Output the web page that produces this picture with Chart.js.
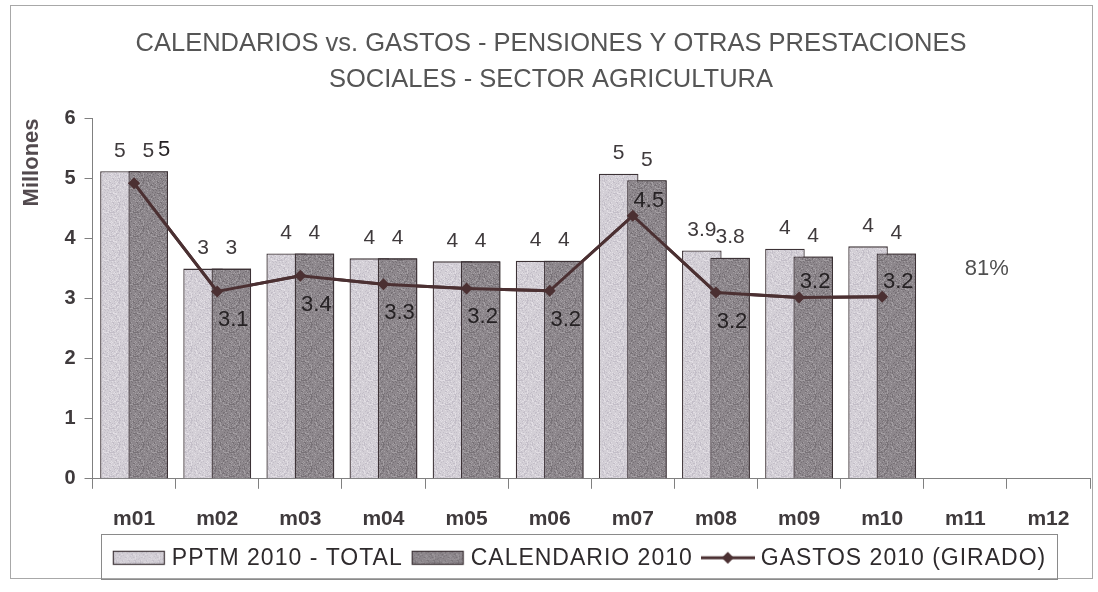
<!DOCTYPE html>
<html>
<head>
<meta charset="utf-8">
<script src="https://cdn.jsdelivr.net/npm/chart.js@4"></script>
<style>
  html, body { margin: 0; padding: 0; background: #fff; }
  #wrap { width: 1098px; height: 592px; }
</style>
</head>
<body>
<div id="wrap"><canvas id="chart" width="1098" height="592"></canvas></div>
<script>
"use strict";

// data (millones)
var months = ['m01', 'm02', 'm03', 'm04', 'm05', 'm06', 'm07', 'm08', 'm09', 'm10', 'm11', 'm12'];
var pptm = [5.12, 3.5, 3.75, 3.67, 3.62, 3.63, 5.08, 3.8, 3.83, 3.87, null, null];
var calendario = [5.12, 3.5, 3.75, 3.67, 3.62, 3.63, 4.97, 3.68, 3.7, 3.75, null, null];
var gastos = [4.92, 3.12, 3.38, 3.24, 3.17, 3.13, 4.38, 3.1, 3.02, 3.03, null, null];

// labels as printed on the chart
var pptmLabels = ['5', '3', '4', '4', '4', '4', '5', '3.9', '4', '4', '', ''];
var calLabels = ['5', '3', '4', '4', '4', '4', '5', '3.8', '4', '4', '', ''];
var gastosLabels = ['5', '3.1', '3.4', '3.3', '3.2', '3.2', '4.5', '3.2', '3.2', '3.2', '', ''];
var gastosLabelSide = ['right', 'below', 'below', 'below', 'below', 'below', 'above', 'below', 'above', 'above', '', ''];
var yTicks = [0, 1, 2, 3, 4, 5, 6];
var ejecucion = '81%';

var FONT = "'Liberation Sans', Arial, sans-serif";
var LINE_COLOR = '#4b3032';
var BAR_BORDER = '#3c3236';
var TEXT = '#3f3a3c';

// speckled fill like the scanned print
function speckle(base, dots, size) {
    var c = document.createElement('canvas');
    c.width = size; c.height = size;
    var g = c.getContext('2d');
    g.fillStyle = base;
    g.fillRect(0, 0, size, size);
    for (var i = 0; i < size; i++) {
        for (var j = 0; j < size; j++) {
            var h = ((i * 7919 + j * 104729 + i * j * 31) % 97) / 97;
            if (h < 0.18) { g.fillStyle = dots[0]; g.fillRect(i, j, 1, 1); }
            else if (h > 0.85) { g.fillStyle = dots[1]; g.fillRect(i, j, 1, 1); }
        }
    }
    return g.createPattern(c, 'repeat');
}

var ctx = document.getElementById('chart').getContext('2d');
var pptmFill = speckle('#d3cfd6', ['#c3bec8', '#e2dee4'], 24);
var calFill = speckle('#8d878c', ['#777176', '#a39ea2'], 24);

function swatch(fill) {
    var c = document.createElement('canvas');
    c.width = 54; c.height = 16;
    var g = c.getContext('2d');
    g.fillStyle = fill;
    g.fillRect(1, 1, 52, 14);
    g.strokeStyle = BAR_BORDER;
    g.lineWidth = 1.2;
    g.strokeRect(1.5, 1.5, 51, 13);
    return c;
}

function lineSwatch() {
    var c = document.createElement('canvas');
    c.width = 54; c.height = 16;
    var g = c.getContext('2d');
    g.strokeStyle = LINE_COLOR;
    g.lineWidth = 3;
    g.beginPath(); g.moveTo(0, 8); g.lineTo(54, 8); g.stroke();
    g.fillStyle = LINE_COLOR;
    g.beginPath(); g.moveTo(27, 2); g.lineTo(33, 8); g.lineTo(27, 14); g.lineTo(21, 8); g.closePath(); g.fill();
    return c;
}

var swatches = [swatch(pptmFill), swatch(calFill), lineSwatch()];
var labelOffset = { above: [16, -4, 'bottom'], below: [16, 18, 'top'], right: [30, -22, 'bottom'] };

var extras = {
    id: 'extras',
    beforeDraw: function(chart) {
        var c = chart.ctx;
        c.save();
        c.strokeStyle = '#a8a8a8';
        c.lineWidth = 1;
        c.strokeRect(10.5, 5.5, 1082, 573);
        c.restore();
    },
    afterDatasetsDraw: function(chart) {
        // calendario sits in front of pptm, line on top of both
        chart.getDatasetMeta(1).controller.draw();
        chart.getDatasetMeta(2).controller.draw();

        var c = chart.ctx;
        c.save();
        c.font = '21px ' + FONT;
        c.fillStyle = TEXT;
        c.textAlign = 'center';
        c.textBaseline = 'bottom';
        [[0, pptmLabels], [1, calLabels]].forEach(function(d) {
            chart.getDatasetMeta(d[0]).data.forEach(function(bar, i) {
                if (!d[1][i]) return;
                c.fillText(d[1][i], bar.x, bar.y - 10);
            });
        });
        c.font = '22px ' + FONT;
        c.fillStyle = '#262224';
        chart.getDatasetMeta(2).data.forEach(function(pt, i) {
            if (!gastosLabels[i]) return;
            var o = labelOffset[gastosLabelSide[i]];
            c.textBaseline = o[2];
            c.fillText(gastosLabels[i], pt.x + o[0], pt.y + o[1]);
        });

        var xs = chart.scales.x, ys = chart.scales.y;
        c.font = '22px ' + FONT;
        c.fillStyle = '#505050';
        c.textBaseline = 'middle';
        c.fillText(ejecucion, (xs.getPixelForValue(10) + xs.getPixelForValue(11)) / 2 - 20, ys.getPixelForValue(3.5));
        c.restore();
    },
    afterDraw: function(chart) {
        // legend in a framed box under the month labels
        var c = chart.ctx;
        var ds = chart.data.datasets;
        c.save();
        c.font = '23px ' + FONT;
        c.letterSpacing = '1px';
        var gap = 6, itemGap = 8, sw = 54;
        var widths = ds.map(function(d) { return sw + gap + c.measureText(d.label).width; });
        var total = widths.reduce(function(a, b) { return a + b; }, 0) + itemGap * (ds.length - 1);
        var boxTop = chart.scales.x.top + 55;
        var midY = boxTop + 24;
        var x = chart.width / 2 + 30 - total / 2;
        c.strokeStyle = '#8a8a8a';
        c.lineWidth = 1;
        c.strokeRect(Math.round(x - 11) + 0.5, Math.round(boxTop) + 0.5, Math.round(total + 22), 45);
        c.fillStyle = '#2e2a2c';
        c.textAlign = 'left';
        c.textBaseline = 'middle';
        ds.forEach(function(d, i) {
            c.drawImage(swatches[i], x, midY - 8);
            c.fillText(d.label, x + sw + gap, midY + 1);
            x += widths[i] + itemGap;
        });
        c.restore();
    }
};

new Chart(ctx, {
    type: 'bar',
    data: {
        labels: months,
        datasets: [{
            label: 'PPTM 2010 - TOTAL',
            data: pptm,
            backgroundColor: pptmFill,
            borderColor: BAR_BORDER,
            borderWidth: 1.3,
            barPercentage: 1.4,
            categoryPercentage: 0.68,
            order: 1
        }, {
            label: 'CALENDARIO 2010',
            data: calendario,
            backgroundColor: calFill,
            borderColor: BAR_BORDER,
            borderWidth: 1.3,
            barPercentage: 1.4,
            categoryPercentage: 0.68,
            order: 1
        }, {
            type: 'line',
            label: 'GASTOS 2010 (GIRADO)',
            data: gastos,
            borderColor: LINE_COLOR,
            backgroundColor: LINE_COLOR,
            borderWidth: 3,
            pointStyle: 'rectRot',
            pointRadius: 6,
            pointBorderWidth: 0,
            spanGaps: false,
            order: 0
        }]
    },
    options: {
        responsive: false,
        animation: false,
        layout: { padding: { left: 12, right: 8, top: 10, bottom: 42 } },
        plugins: {
            tooltip: { enabled: false },
            legend: { display: false },
            title: {
                display: true,
                text: ['CALENDARIOS vs. GASTOS - PENSIONES Y OTRAS PRESTACIONES', 'SOCIALES - SECTOR AGRICULTURA'],
                color: '#555555',
                font: { family: FONT, size: 25.5, weight: 'normal', lineHeight: 1.42 },
                padding: { top: 16, bottom: 20 }
            }
        },
        scales: {
            x: {
                offset: true,
                grid: { display: true, drawOnChartArea: false, offset: true, tickLength: 10, color: '#808080' },
                border: { color: '#808080' },
                ticks: { color: TEXT, font: { family: FONT, size: 21, weight: 'bold' }, padding: 18 }
            },
            y: {
                min: 0,
                max: 6,
                afterBuildTicks: function(scale) {
                    scale.ticks = yTicks.map(function(v) { return { value: v }; });
                },
                grid: { display: true, drawOnChartArea: false, tickLength: 8, color: '#808080' },
                border: { color: '#808080' },
                ticks: { color: TEXT, font: { family: FONT, size: 20, weight: 'bold' }, padding: 9 },
                title: {
                    display: true,
                    text: 'Millones',
                    align: 'end',
                    color: '#524a4e',
                    font: { family: FONT, size: 22, weight: 'bold' },
                    padding: { top: 7, bottom: 10 }
                }
            }
        }
    },
    plugins: [extras]
});
</script>
</body>
</html>
